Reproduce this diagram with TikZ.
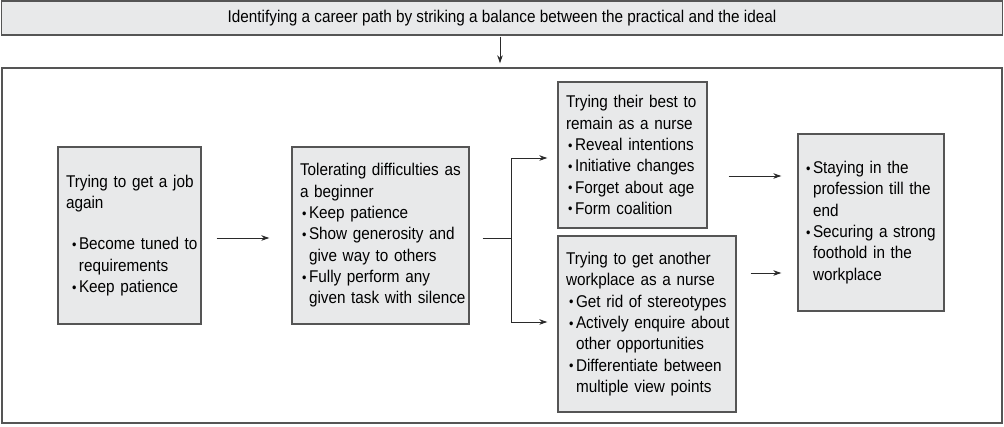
\documentclass[tikz,border=0pt]{standalone}
\usepackage{fontspec}
\setmainfont{Liberation Sans}[FakeStretch=0.9]
\usetikzlibrary{arrows.meta,calc}
\definecolor{boxfill}{HTML}{E8E9EA}
\definecolor{boxline}{HTML}{555555}
\definecolor{arrline}{HTML}{2A2A2A}
\newcommand\bul[1][2pt]{\hspace*{#1}\makebox[7pt][l]{\fontsize{14}{14}\selectfont\raisebox{0.4pt}{•}}}
\newcommand\cont[1][2pt]{\hspace*{\dimexpr#1+7pt\relax}}
\newcommand\Ln[1]{\mbox{#1}}
\begin{document}
\begin{tikzpicture}[x=1pt,y=-1pt,
  font=\fontsize{17}{21.3}\selectfont,
  box/.style={draw=boxline,line width=1.4pt,fill=boxfill,align=left,inner xsep=8pt,inner ysep=0pt},
  arr/.style={draw=arrline,line width=0.9pt,-{Stealth[length=8pt,width=5.5pt]}},
  ln/.style={draw=arrline,line width=0.9pt}]
\useasboundingbox (0,0) rectangle (1004,426);
\node[box,minimum width=1001pt,minimum height=34pt,align=center] (top) at (502,18)
  {Identifying a career path by striking a balance between the practical and the ideal};
\node[draw=boxline,line width=1.4pt,minimum width=1000pt,minimum height=355pt,inner sep=0pt] (frame) at (502,245.5) {};

\node[box,text width=127pt,minimum height=177pt] (b1) at (129.5,235.5)
  {\Ln{Trying to get a job}\\\Ln{again}\\[20pt]\Ln{\bul[6pt]Become tuned to}\\\Ln{\cont[6pt]requirements}\\\Ln{\bul[6pt]Keep patience}};
\node[box,text width=161pt,minimum height=177pt] (b2) at (380.5,235.5)
  {\Ln{Tolerating difficulties as}\\\Ln{a beginner}\\\Ln{\bul Keep patience}\\\Ln{\bul Show generosity and}\\\Ln{\cont give way to others}\\\Ln{\bul Fully perform any}\\\Ln{\cont given task with silence}};
\node[box,text width=133pt,minimum height=146pt] (b3) at (632.5,155)
  {\Ln{Trying their best to}\\\Ln{remain as a nurse}\\\Ln{\bul Reveal intentions}\\\Ln{\bul Initiative changes}\\\Ln{\bul Forget about age}\\\Ln{\bul Form coalition}};
\node[box,text width=162pt,minimum height=176pt] (b4) at (647,324)
  {\Ln{Trying to get another}\\\Ln{workplace as a nurse}\\\Ln{\bul[3pt]Get rid of stereotypes}\\\Ln{\bul[3pt]Actively enquire about}\\\Ln{\cont[3pt]other opportunities}\\\Ln{\bul[3pt]Differentiate between}\\\Ln{\cont[3pt]multiple view points}};
\node[box,text width=130pt,minimum height=177pt] (b5) at (871,222.5)
  {\Ln{\bul[0pt]Staying in the}\\\Ln{\cont[0pt]profession till the}\\\Ln{\cont[0pt]end}\\\Ln{\bul[0pt]Securing a strong}\\\Ln{\cont[0pt]foothold in the}\\\Ln{\cont[0pt]workplace}};

\draw[arr] ($(top.south)+(-2,1)$) -- ($(frame.north)+(-2,-4)$);
\draw[arr] ($(b1.east)+(15,2.5)$) -- ($(b2.west)+(-22,2.5)$);
\coordinate (j) at ($(b2.east)+(42,2.5)$);
\draw[ln] ($(b2.east)+(13,2.5)$) -- (j);
\draw[arr] (j) |- ($(b3.west)+(-10,3)$);
\draw[arr] (j) |- ($(b4.west)+(-10,-2)$);
\coordinate (a3) at ($(b3.east)+(21,21)$);
\draw[arr] (a3) -- ($(b5.west|-a3)+(-16,0)$);
\coordinate (a4) at ($(b4.east)+(14,-51)$);
\draw[arr] (a4) -- ($(b5.west|-a4)+(-16,0)$);
\end{tikzpicture}
\end{document}
